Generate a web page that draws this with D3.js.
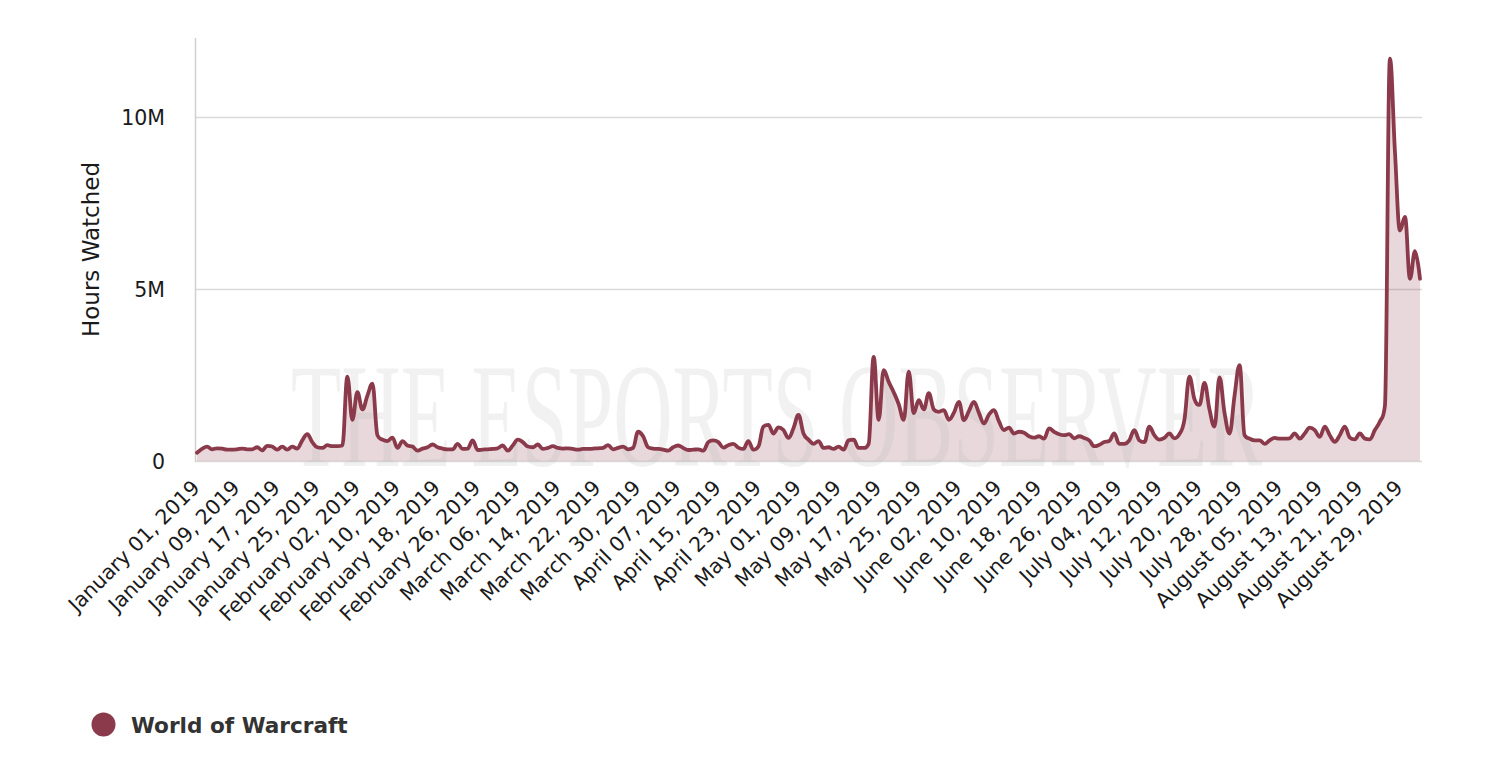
<!DOCTYPE html>
<html><head><meta charset="utf-8">
<script src="https://cdn.jsdelivr.net/npm/d3@7"></script>
<style>html,body{margin:0;padding:0;background:#fff;} svg{display:block;}</style>
</head><body>
<svg id="chart" width="1506" height="766"></svg>
<script>
// ---- data ----
const seriesName = "World of Warcraft";
const startDate = "2019-01-01";
// daily hours watched, in millions (Jan 01 – Sep 02, 2019)
const hoursWatchedM = [
 0.24,0.35,0.42,0.34,0.37,0.36,0.33,0.33,0.34,0.36,
 0.34,0.34,0.40,0.31,0.44,0.42,0.33,0.42,0.33,0.42,
 0.36,0.60,0.78,0.55,0.40,0.38,0.46,0.43,0.43,0.45,
 2.45,1.20,2.00,1.50,1.90,2.25,0.75,0.62,0.58,0.68,
 0.38,0.58,0.45,0.42,0.30,0.36,0.40,0.48,0.40,0.36,
 0.34,0.34,0.50,0.35,0.36,0.60,0.32,0.33,0.34,0.35,
 0.37,0.45,0.30,0.45,0.62,0.55,0.42,0.40,0.48,0.35,
 0.38,0.43,0.38,0.36,0.37,0.35,0.33,0.35,0.35,0.36,
 0.37,0.38,0.46,0.34,0.38,0.42,0.34,0.38,0.85,0.72,
 0.40,0.36,0.35,0.33,0.30,0.40,0.45,0.38,0.32,0.33,
 0.34,0.30,0.55,0.60,0.55,0.39,0.46,0.50,0.39,0.35,
 0.58,0.33,0.42,1.00,1.05,0.80,0.98,0.90,0.67,0.95,
 1.34,0.80,0.62,0.50,0.58,0.38,0.40,0.35,0.42,0.33,
 0.60,0.62,0.38,0.38,0.50,3.03,1.20,2.64,2.30,2.00,
 1.65,1.20,2.60,1.39,1.77,1.50,1.97,1.50,1.43,1.48,
 1.20,1.40,1.72,1.19,1.45,1.72,1.40,1.09,1.35,1.48,
 1.15,0.90,0.97,0.80,0.85,0.82,0.72,0.68,0.72,0.65,
 0.95,0.85,0.78,0.75,0.78,0.66,0.72,0.67,0.60,0.43,
 0.47,0.55,0.58,0.80,0.50,0.50,0.60,0.90,0.60,0.55,
 1.00,0.75,0.62,0.67,0.80,0.66,0.78,1.20,2.45,1.80,
 1.63,2.27,1.50,1.00,2.43,1.40,0.80,1.90,2.79,0.75,
 0.65,0.60,0.60,0.50,0.60,0.67,0.65,0.65,0.66,0.80,
 0.65,0.80,0.97,0.90,0.70,1.00,0.75,0.56,0.75,1.00,
 0.68,0.63,0.80,0.65,0.63,0.90,1.15,1.60,11.70,9.00,
 6.70,7.10,5.30,6.10,5.30
];
const yTickValues = [0, 5000000, 10000000];
const yTickLabels = ["0", "5M", "10M"];
const xTickLabels = [
 "January 01, 2019","January 09, 2019","January 17, 2019","January 25, 2019",
 "February 02, 2019","February 10, 2019","February 18, 2019","February 26, 2019",
 "March 06, 2019","March 14, 2019","March 22, 2019","March 30, 2019",
 "April 07, 2019","April 15, 2019","April 23, 2019","May 01, 2019",
 "May 09, 2019","May 17, 2019","May 25, 2019","June 02, 2019",
 "June 10, 2019","June 18, 2019","June 26, 2019","July 04, 2019",
 "July 12, 2019","July 20, 2019","July 28, 2019","August 05, 2019",
 "August 13, 2019","August 21, 2019","August 29, 2019"
];
const yAxisTitle = "Hours Watched";
const watermarkText = "THE ESPORTS OBSERVER";

// ---- build ----
const start = d3.timeParse("%Y-%m-%d")(startDate);
const data = hoursWatchedM.map((v, i) => ({ date: d3.timeDay.offset(start, i), value: v * 1e6 }));
const parseLabel = d3.timeParse("%B %d, %Y");

const svg = d3.select("#chart");
const lineColor = "#8b3a4b";

const x = d3.scaleTime()
  .domain([data[0].date, data[data.length - 1].date])
  .range([197, 1420]);
const y = d3.scaleLinear().domain([0, 12300000]).range([461, 38]);

// Highcharts-style spline path built with d3.path from scaled points
function splinePath(pts, p) {
  const sm = 1.5, den = sm + 1;
  const rc = [];
  p.moveTo(pts[0][0], pts[0][1]);
  for (let i = 1; i < pts.length; i++) {
    const [px, py] = pts[i];
    const [lx, ly] = pts[i - 1];
    let lcx = px, lcy = py;
    if (i < pts.length - 1) {
      const [nx, ny] = pts[i + 1];
      lcx = (sm * px + lx) / den; lcy = (sm * py + ly) / den;
      let rcx = (sm * px + nx) / den, rcy = (sm * py + ny) / den;
      if (rcx !== lcx) {
        const corr = ((rcy - lcy) * (rcx - px)) / (rcx - lcx) + py - rcy;
        lcy += corr; rcy += corr;
      }
      if (lcy > ly && lcy > py) { lcy = Math.max(ly, py); rcy = 2 * py - lcy; }
      else if (lcy < ly && lcy < py) { lcy = Math.min(ly, py); rcy = 2 * py - lcy; }
      if (rcy > ny && rcy > py) { rcy = Math.max(ny, py); lcy = 2 * py - rcy; }
      else if (rcy < ny && rcy < py) { rcy = Math.min(ny, py); lcy = 2 * py - rcy; }
      rc[i] = [rcx, rcy];
    }
    const r = rc[i - 1] || [lx, ly];
    p.bezierCurveTo(r[0], r[1], lcx, lcy, px, py);
  }
  return p;
}
const pts = data.map(d => [x(d.date), y(d.value)]);
const linePath = splinePath(pts, d3.path()).toString();
const areaP = splinePath(pts, d3.path());
areaP.lineTo(pts[pts.length - 1][0], y(0));
areaP.lineTo(pts[0][0], y(0));
areaP.closePath();

// gridlines
svg.append("g").selectAll("line").data(yTickValues).join("line")
  .attr("x1", 195).attr("x2", 1422)
  .attr("y1", d => Math.round(y(d)) + 0.5).attr("y2", d => Math.round(y(d)) + 0.5)
  .attr("stroke", "#d9d9d9").attr("stroke-width", 1.3);

// left axis line
svg.append("line").attr("x1", 195.5).attr("x2", 195.5).attr("y1", 38).attr("y2", 462)
  .attr("stroke", "#d0d0d0").attr("stroke-width", 1.5);

svg.append("path").attr("d", areaP.toString())
  .attr("fill", lineColor).attr("fill-opacity", 0.2);

// watermark (clipped to plot bottom)
svg.append("clipPath").attr("id", "wmclip").append("rect")
  .attr("x", 195).attr("y", 300).attr("width", 1230).attr("height", 168);
svg.append("text")
  .attr("clip-path", "url(#wmclip)")
  .attr("x", 291).attr("y", 466)
  .attr("textLength", 971).attr("lengthAdjust", "spacingAndGlyphs")
  .attr("font-family", "Liberation Serif, Times New Roman, serif")
  .attr("font-size", 148)
  .attr("fill", "#b4b4b4").attr("fill-opacity", 0.18)
  .text(watermarkText);

svg.append("path").attr("d", linePath)
  .attr("fill", "none").attr("stroke", lineColor).attr("stroke-width", 3.8)
  .attr("stroke-linejoin", "round").attr("stroke-linecap", "round");

// y labels
svg.append("g").selectAll("text").data(yTickValues).join("text")
  .attr("x", 165).attr("y", d => y(d) + 8)
  .attr("text-anchor", "end")
  .attr("font-family", "DejaVu Sans, sans-serif").attr("font-size", 20.5)
  .attr("fill", "#1a1a1a")
  .text((d, i) => yTickLabels[i]);

// y title
svg.append("text")
  .attr("transform", "translate(99,249.5) rotate(-90)")
  .attr("text-anchor", "middle")
  .attr("font-family", "DejaVu Sans, sans-serif").attr("font-size", 23)
  .attr("fill", "#1a1a1a")
  .text(yAxisTitle);

// x labels
svg.append("g").selectAll("text").data(xTickLabels).join("text")
  .attr("transform", d => `translate(${x(parseLabel(d)) + 4},489) rotate(-45)`)
  .attr("text-anchor", "end")
  .attr("font-family", "DejaVu Sans, sans-serif").attr("font-size", 20.5)
  .attr("fill", "#1a1a1a")
  .text(d => d);

// legend
svg.append("circle").attr("cx", 103.5).attr("cy", 724.5).attr("r", 12).attr("fill", lineColor);
svg.append("text").attr("x", 131).attr("y", 733)
  .attr("font-family", "DejaVu Sans, sans-serif").attr("font-weight", "bold").attr("font-size", 21.6)
  .attr("fill", "#333333")
  .text(seriesName);
</script>
</body></html>
